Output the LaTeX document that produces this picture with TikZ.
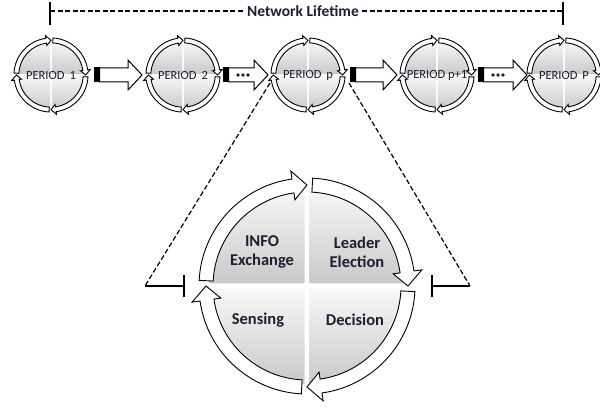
\documentclass[tikz,border=0pt]{standalone}
\usepackage{fontspec}
\setmainfont{Carlito}
\usetikzlibrary{calc}
\definecolor{textc}{RGB}{30,30,50}
\definecolor{dotc}{RGB}{25,30,70}
\tikzset{
  ringarrow/.style={fill=white, draw=black, line width=0.9pt, line join=miter},
  blockarr/.style={fill=white, draw=black, line width=1pt, line join=miter},
  dashline/.style={line width=1.2pt, dash pattern=on 5pt off 2.5pt},
  solidline/.style={line width=1.2pt},
  periodlabel/.style={font=\fontsize{12.5}{13}\selectfont, text=textc, inner sep=0pt},
  biglabel/.style={font=\fontsize{16.5}{19}\selectfont\bfseries, text=textc, align=center, inner sep=0pt},
  titlelabel/.style={font=\fontsize{15.5}{17}\selectfont\bfseries, text=textc, inner sep=3pt},
  quadshade/.style={top color=gray!6, bottom color=gray!42},
}
\newcommand{\cyclecircle}[2]{% coordinate name, scale
  \begin{scope}[shift={(#1)}, scale=#2]
    \shade[quadshade] (-2.5,2.5) -- (-98,2.5) arc[start angle=180,end angle=90,radius=95.5] -- cycle;
    \shade[quadshade] (2.5,2.5) -- (2.5,98) arc[start angle=90,end angle=0,radius=95.5] -- cycle;
    \shade[quadshade] (2.5,-2.5) -- (98,-2.5) arc[start angle=0,end angle=-90,radius=95.5] -- cycle;
    \shade[quadshade] (-2.5,-2.5) -- (-2.5,-98) arc[start angle=-90,end angle=-180,radius=95.5] -- cycle;
    \foreach \a in {180,90,0,-90} {
      \draw[ringarrow] ({\a-3}:108) arc[start angle={\a-3}, end angle={\a-82}, radius=108]
        -- ({\a-82}:116) -- ({\a-90}:101) -- ({\a-82}:87) -- ({\a-82}:94)
        arc[start angle={\a-82}, end angle={\a-3}, radius=94] -- cycle;
    }
  \end{scope}}
\newcommand{\blockarrow}[2]{% start, tip
  \fill[black] ([yshift=-7pt]#1) rectangle ([xshift=5.5pt,yshift=7pt]#1);
  \draw[blockarr] ([xshift=5.5pt,yshift=-7pt]#1) -- ([xshift=-14pt,yshift=-7pt]#2)
    -- ([xshift=-14pt,yshift=-15pt]#2) -- (#2) -- ([xshift=-14pt,yshift=15pt]#2)
    -- ([xshift=-14pt,yshift=7pt]#2) -- ([xshift=5.5pt,yshift=7pt]#1) -- cycle;
  \draw[black, line width=1pt] ([yshift=-7pt]#1) rectangle ([xshift=5.5pt,yshift=7pt]#1);}
\newcommand{\threedots}[1]{%
  \foreach \d in {-5,0,5} \fill[dotc] ([xshift=\d pt]#1) circle[radius=1.8];}
\begin{document}
\begin{tikzpicture}[x=1pt,y=1pt]
\useasboundingbox (0,0) rectangle (600,409);
% title
\coordinate (L) at (50,398);
\coordinate (R) at (563,398);
\node[titlelabel] (title) at (303,398) {Network Lifetime};
\draw[dashline] (L) -- (title.west);
\draw[dashline] (title.east) -- (R);
\draw[solidline] ([yshift=9pt]L) -- ([yshift=-14pt]L);
\draw[solidline] ([yshift=9pt]R) -- ([yshift=-14pt]R);
% period circles
\coordinate (p1) at (51,334);
\coordinate (p2) at (183,334);
\coordinate (p3) at (308,334);
\coordinate (p4) at (437,334);
\coordinate (p5) at (564,334);
\foreach \c in {p1,p2,p3,p4,p5} {\cyclecircle{\c}{0.343}}
\node[periodlabel] (t1) at (p1) {PERIOD\,\ 1};
\node[periodlabel] (t2) at (p2) {PERIOD\,\ 2};
\node[periodlabel] (t3) at (p3) {PERIOD\,\ p};
\node[periodlabel] (t4) at (p4) {PERIOD p+1};
\node[periodlabel] (t5) at (p5) {PERIOD\,\ P};
% block arrows
\coordinate (a1s) at (94,334);  \coordinate (a1e) at (142,334);
\coordinate (a2s) at (223,334); \coordinate (a2e) at (268,334);
\coordinate (a3s) at (350,334); \coordinate (a3e) at (397,334);
\coordinate (a4s) at (478,334); \coordinate (a4e) at (527,334);
\blockarrow{a1s}{a1e}
\blockarrow{a2s}{a2e}
\blockarrow{a3s}{a3e}
\blockarrow{a4s}{a4e}
\coordinate (d2) at (243,334);
\coordinate (d4) at (498,334);
\threedots{d2}
\threedots{d4}
% zoom lines
\coordinate (zl) at (270,326);
\coordinate (zr) at (349,326);
\coordinate (bl) at (145,123);
\coordinate (br) at (470,123);
\coordinate (tl) at (184,123);
\coordinate (tr) at (432,123);
\draw[dashline] (zl) -- (bl);
\draw[dashline] (zr) -- (br);
\draw[solidline] (bl) -- (tl);
\draw[solidline] (br) -- (tr);
\draw[solidline] ([yshift=11pt]tl) -- ([yshift=-11pt]tl);
\draw[solidline] ([yshift=11pt]tr) -- ([yshift=-11pt]tr);
% big circle
\coordinate (cb) at (307,123);
\cyclecircle{cb}{1}
\node[biglabel] (info) at (262,157) {INFO\\Exchange};
\node[biglabel] (lead) at (357,157) {Leader\\Election};
\node[biglabel] (sens) at (258,89) {Sensing};
\node[biglabel] (deci) at (355,89) {Decision};
\end{tikzpicture}
\end{document}
